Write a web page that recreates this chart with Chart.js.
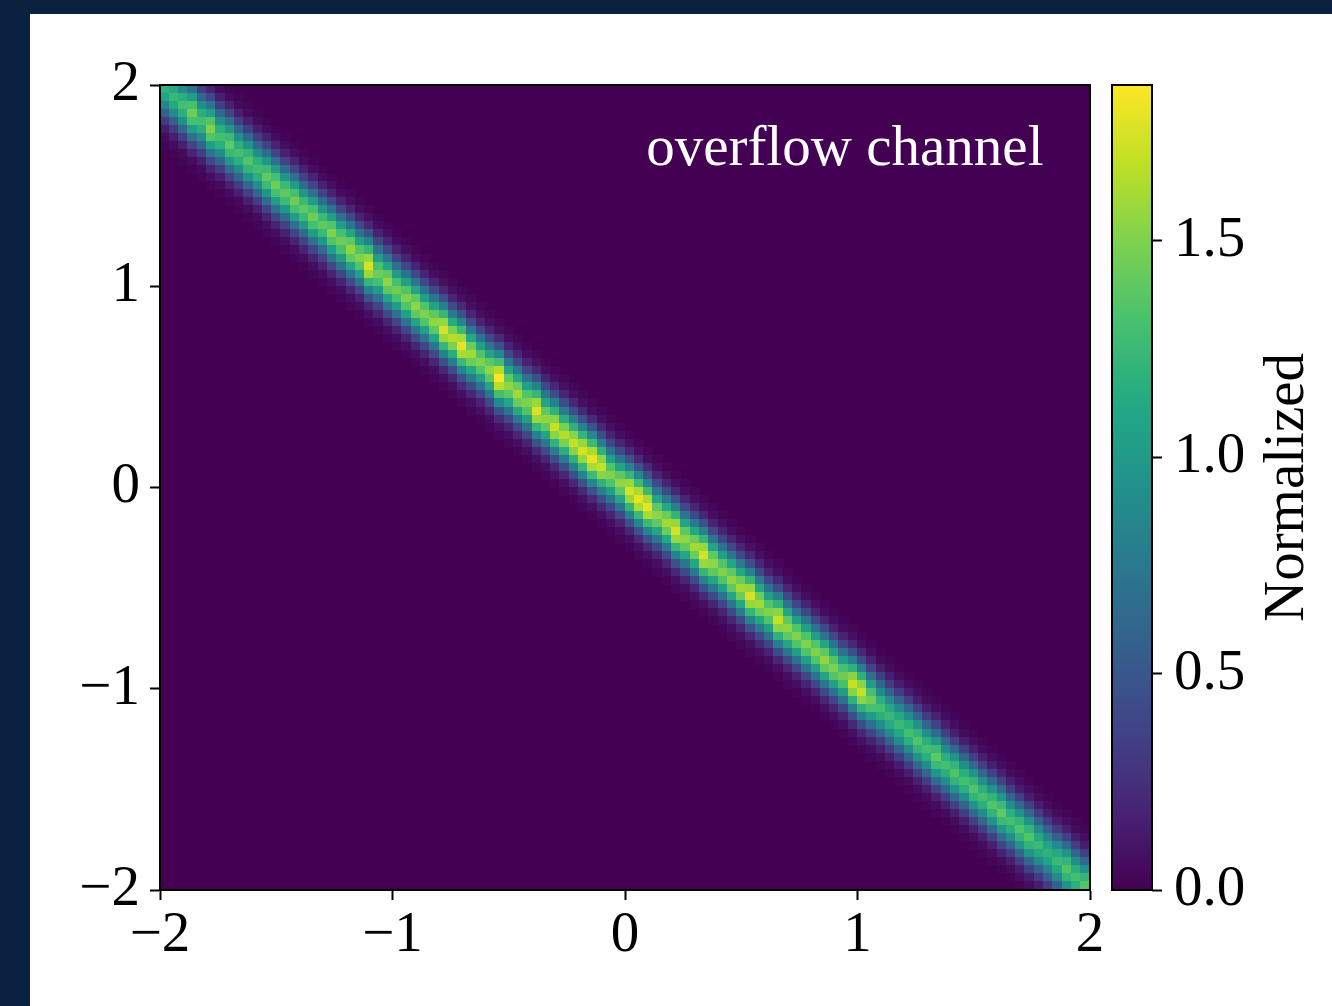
<!DOCTYPE html>
<html>
<head>
<meta charset="utf-8">
<script src="https://cdn.jsdelivr.net/npm/chart.js@4.4.1/dist/chart.umd.min.js"></script>
<style>
  html, body { margin:0; padding:0; width:1332px; height:1006px; overflow:hidden; background:#0a2240; }
  #card { position:absolute; left:30px; top:14px; width:1302px; height:992px; background:#ffffff; }
  #main { position:absolute; left:0; top:0; }
  #cbar { position:absolute; left:1100px; top:0; }
</style>
</head>
<body>
<div id="card"></div>
<canvas id="main" width="1332" height="1006"></canvas>
<canvas id="cbar" width="232" height="1006"></canvas>
<script>
// ---------------- data ----------------
const xRange = [-2, 2];
const yRange = [-2, 2];
const nBins = 100;
const xTicks = [-2, -1, 0, 1, 2];
const yTicks = [-2, -1, 0, 1, 2];
const cbTicks = [0, 0.5, 1.0, 1.5];
const vMax = 1.86;
const annotationText = 'overflow channel';
const colorbarLabel = 'Normalized';

// value of the ridge cell (on the y = -x diagonal) in each x column
const ridgePeak = [
  1.20, 1.25, 1.30, 1.45, 1.30, 1.50, 1.30, 1.40, 1.30, 1.35,
  1.30, 1.40, 1.45, 1.40, 1.45, 1.40, 1.45, 1.40, 1.50, 1.45,
  1.55, 1.50, 1.75, 1.45, 1.55, 1.45, 1.50, 1.55, 1.50, 1.55,
  1.75, 1.65, 1.80, 1.60, 1.50, 1.55, 1.85, 1.55, 1.60, 1.50,
  1.75, 1.55, 1.70, 1.65, 1.70, 1.75, 1.80, 1.70, 1.50, 1.55,
  1.75, 1.80, 1.80, 1.55, 1.60, 1.75, 1.55, 1.60, 1.75, 1.55,
  1.50, 1.55, 1.60, 1.75, 1.60, 1.50, 1.70, 1.55, 1.50, 1.50,
  1.50, 1.55, 1.50, 1.45, 1.70, 1.70, 1.45, 1.30, 1.25, 1.25,
  1.30, 1.35, 1.30, 1.40, 1.30, 1.35, 1.30, 1.35, 1.30, 1.35,
  1.40, 1.30, 1.35, 1.35, 1.25, 1.20, 1.25, 1.35, 1.30, 1.35
];
// relative value across the band, by number of cells away from the diagonal (0..7)
const crossProfile = [1.00, 0.90, 0.70, 0.47, 0.26, 0.12, 0.045, 0.015];

const viridisStops = ['#440154','#482475','#414487','#355f8d','#2a788e','#21918c',
                      '#22a884','#44bf70','#7ad151','#bddf26','#fde725'];

// ---------------- helpers ----------------
const binW = (xRange[1] - xRange[0]) / nBins;
const binH = (yRange[1] - yRange[0]) / nBins;
function hexRgb(h){ return [parseInt(h.slice(1,3),16), parseInt(h.slice(3,5),16), parseInt(h.slice(5,7),16)]; }
const stopsRgb = viridisStops.map(hexRgb);
function viridis(t){
  t = Math.max(0, Math.min(1, t));
  const f = t * (stopsRgb.length - 1);
  const i = Math.min(stopsRgb.length - 2, Math.floor(f));
  const u = f - i;
  const a = stopsRgb[i], b = stopsRgb[i+1];
  return 'rgb(' + [0,1,2].map(k => Math.round(a[k] + (b[k]-a[k])*u)).join(',') + ')';
}
function fmtTick(v){ return v < 0 ? '\u2212' + Math.abs(v) : String(v); }

// build the cell table from the arrays
const cells = [];
for (let i = 0; i < nBins; i++) {
  const xc = xRange[0] + binW * (i + 0.5);
  for (let d = -(crossProfile.length - 1); d < crossProfile.length; d++) {
    const j = i + d;               // row index counted from the top
    if (j < 0 || j >= nBins) continue;
    const yc = yRange[1] - binH * (j + 0.5);
    cells.push({ x: xc, y: yc, v: ridgePeak[i] * crossProfile[Math.abs(d)] });
  }
}

const FONT = "'Liberation Serif', 'Times New Roman', serif";
const FSIZE = 57;

// ---------------- main heatmap ----------------
const heatPlugin = {
  id: 'heat',
  beforeDatasetsDraw(chart) {
    const { ctx, chartArea: a, scales: { x: xs, y: ys } } = chart;
    ctx.save();
    ctx.beginPath(); ctx.rect(a.left, a.top, a.right - a.left, a.bottom - a.top); ctx.clip();
    ctx.fillStyle = viridis(0);
    ctx.fillRect(a.left, a.top, a.right - a.left, a.bottom - a.top);
    const pts = chart.data.datasets[0].data;
    for (const c of pts) {
      const x0 = xs.getPixelForValue(c.x - binW/2), x1 = xs.getPixelForValue(c.x + binW/2);
      const y0 = ys.getPixelForValue(c.y + binH/2), y1 = ys.getPixelForValue(c.y - binH/2);
      ctx.fillStyle = viridis(c.v / vMax);
      const L = Math.floor(x0), T = Math.floor(y0);
      ctx.fillRect(L, T, Math.ceil(x1) - L, Math.ceil(y1) - T);
    }
    ctx.restore();
  },
  afterDraw(chart) {
    const { ctx, chartArea: a } = chart;
    ctx.save();
    ctx.strokeStyle = '#000'; ctx.lineWidth = 2;
    ctx.strokeRect(a.left, a.top, a.right - a.left, a.bottom - a.top);
    ctx.fillStyle = '#ffffff';
    ctx.font = FSIZE + 'px ' + FONT;
    ctx.textAlign = 'right'; ctx.textBaseline = 'alphabetic';
    ctx.fillText(annotationText, a.left + 0.95 * (a.right - a.left), a.top + 80);
    ctx.restore();
  }
};

const axisCommon = {
  type: 'linear',
  grid: { drawOnChartArea: false, drawTicks: true, tickLength: 10, tickWidth: 2, tickColor: '#000' },
  border: { display: true, color: '#000', width: 2 },
  ticks: { color: '#000', font: { family: FONT, size: FSIZE }, maxRotation: 0, autoSkip: false, callback: fmtTick }
};

new Chart(document.getElementById('main'), {
  type: 'scatter',
  data: { datasets: [{ data: cells, pointRadius: 0, pointHoverRadius: 0 }] },
  options: {
    responsive: false, animation: false, devicePixelRatio: 1, events: [],
    layout: { padding: { left: 0, top: 85, right: 242, bottom: 0 } },
    plugins: { legend: { display: false }, tooltip: { enabled: false } },
    scales: {
      x: Object.assign({}, axisCommon, {
        min: xRange[0], max: xRange[1],
        afterBuildTicks: s => { s.ticks = xTicks.map(v => ({ value: v })); },
        afterFit: s => { s.height = 116; },
        ticks: Object.assign({}, axisCommon.ticks, { padding: 2 })
      }),
      y: Object.assign({}, axisCommon, {
        min: yRange[0], max: yRange[1],
        afterBuildTicks: s => { s.ticks = yTicks.map(v => ({ value: v })); },
        afterFit: s => { s.width = 160; },
        ticks: Object.assign({}, axisCommon.ticks, { padding: 10 })
      })
    }
  },
  plugins: [heatPlugin]
});

// ---------------- colorbar ----------------
const cbPlugin = {
  id: 'cbframe',
  afterDraw(chart) {
    const { ctx, chartArea: a } = chart;
    ctx.save();
    ctx.strokeStyle = '#000'; ctx.lineWidth = 2;
    ctx.strokeRect(a.left, a.top, a.right - a.left, a.bottom - a.top);
    ctx.translate(203, (a.top + a.bottom) / 2);
    ctx.rotate(-Math.PI / 2);
    ctx.fillStyle = '#000';
    ctx.font = FSIZE + 'px ' + FONT;
    ctx.textAlign = 'center'; ctx.textBaseline = 'alphabetic';
    ctx.fillText(colorbarLabel, 0, 0);
    ctx.restore();
  }
};

new Chart(document.getElementById('cbar'), {
  type: 'bar',
  data: {
    labels: [''],
    datasets: [{
      data: [[0, vMax]],
      borderWidth: 0,
      barPercentage: 1, categoryPercentage: 1,
      backgroundColor: (c) => {
        const ch = c.chart;
        if (!ch.chartArea) return viridis(0);
        const ys = ch.scales.y;
        const g = ch.ctx.createLinearGradient(0, ys.getPixelForValue(0), 0, ys.getPixelForValue(vMax));
        viridisStops.forEach((col, k) => g.addColorStop(k / (viridisStops.length - 1), col));
        return g;
      }
    }]
  },
  options: {
    responsive: false, animation: false, devicePixelRatio: 1, events: [],
    layout: { padding: { left: 12, top: 85, right: 0, bottom: 116 } },
    plugins: { legend: { display: false }, tooltip: { enabled: false } },
    scales: {
      x: { display: false },
      y: {
        position: 'right', min: 0, max: vMax,
        afterBuildTicks: s => { s.ticks = cbTicks.map(v => ({ value: v })); },
        afterFit: s => { s.width = 180; },
        grid: { drawOnChartArea: false, drawTicks: true, tickLength: 10, tickWidth: 2, tickColor: '#000' },
        border: { display: false },
        ticks: { color: '#000', font: { family: FONT, size: FSIZE }, padding: 12, callback: v => v.toFixed(1) }
      }
    }
  },
  plugins: [cbPlugin]
});
</script>
</body>
</html>
